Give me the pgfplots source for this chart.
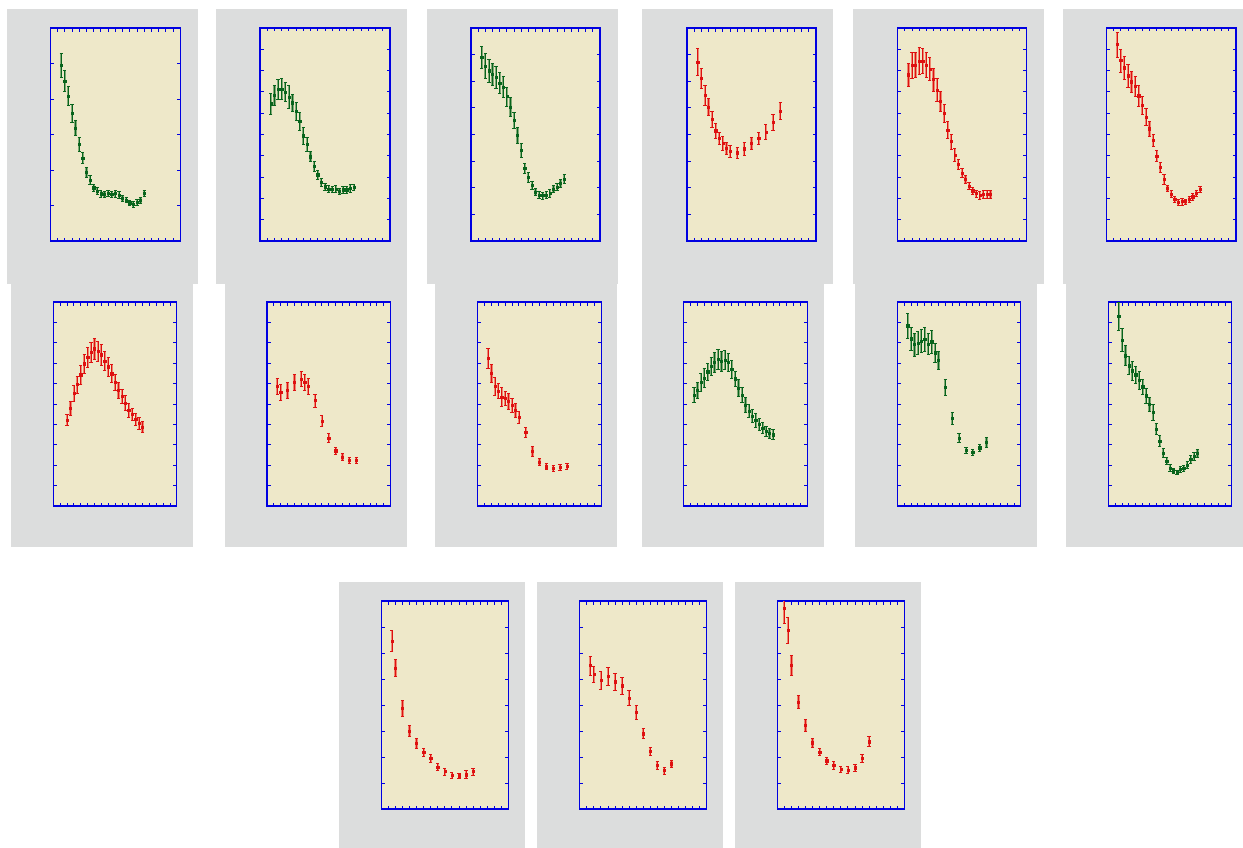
\documentclass[border=0pt]{standalone}
\usepackage{pgfplots}
\usepackage{pgfplotstable}
\pgfplotsset{compat=1.18}
\definecolor{beige}{RGB}{238,232,201}
\definecolor{panelgray}{RGB}{220,221,221}
\definecolor{axblue}{RGB}{0,0,225}
\definecolor{gmark}{RGB}{8,100,28}
\definecolor{ghalo}{RGB}{130,170,118}
\definecolor{rmark}{RGB}{222,16,16}
\definecolor{rhalo}{RGB}{238,135,112}

\pgfplotstableread{
x y e
1.5 4.95 0.33
2.0 4.51 0.30
2.5 4.09 0.28
3.0 3.60 0.25
3.5 3.18 0.21
4.0 2.72 0.20
4.5 2.34 0.15
5.0 1.94 0.15
5.5 1.72 0.12
6.0 1.50 0.10
6.5 1.41 0.09
7.0 1.33 0.11
7.5 1.32 0.08
8.0 1.35 0.09
8.5 1.31 0.09
9.0 1.34 0.10
9.5 1.30 0.09
10.0 1.21 0.08
10.5 1.16 0.08
11.0 1.08 0.08
11.5 1.04 0.08
12.0 1.09 0.08
12.5 1.15 0.08
13.0 1.34 0.09
}\tAa
\pgfplotstableread{
x y e
1.5 6.45 0.50
2.0 6.86 0.47
2.5 7.14 0.47
3.0 7.14 0.49
3.5 7.00 0.46
4.0 6.75 0.54
4.5 6.49 0.42
5.0 6.10 0.42
5.5 5.63 0.43
6.0 4.94 0.42
6.5 4.54 0.31
7.0 3.96 0.24
7.5 3.51 0.23
8.0 3.11 0.22
8.5 2.77 0.19
9.0 2.55 0.17
9.5 2.45 0.17
10.0 2.44 0.15
10.5 2.44 0.17
11.0 2.33 0.16
11.5 2.41 0.17
12.0 2.41 0.16
12.5 2.47 0.17
13.0 2.52 0.13
}\tAb
\pgfplotstableread{
x y e
1.5 6.89 0.41
2.0 6.58 0.46
2.5 6.40 0.43
3.0 6.26 0.42
3.5 6.15 0.40
4.0 5.94 0.41
4.5 5.79 0.40
5.0 5.43 0.36
5.5 5.04 0.35
6.0 4.53 0.30
6.5 3.97 0.29
7.0 3.42 0.26
7.5 2.74 0.19
8.0 2.40 0.18
8.5 2.09 0.16
9.0 1.84 0.14
9.5 1.72 0.13
10.0 1.71 0.13
10.5 1.72 0.13
11.0 1.79 0.14
11.5 1.95 0.13
12.0 2.03 0.13
12.5 2.16 0.14
13.0 2.33 0.16
}\tAc
\pgfplotstableread{
x y e
1.5 6.73 0.52
2.0 6.10 0.38
2.5 5.47 0.38
3.0 5.04 0.31
3.5 4.57 0.31
4.0 4.14 0.28
4.5 3.86 0.23
5.0 3.67 0.25
5.5 3.48 0.21
6.0 3.37 0.23
7.0 3.32 0.21
8.0 3.47 0.24
9.0 3.67 0.23
10.0 3.87 0.23
11.0 4.10 0.29
12.0 4.45 0.31
13.0 4.89 0.31
}\tAd
\pgfplotstableread{
x y e
1.5 7.81 0.54
2.0 8.27 0.61
2.5 8.27 0.57
3.0 8.46 0.64
3.5 8.46 0.59
4.0 8.27 0.57
4.5 8.08 0.54
5.0 7.58 0.55
5.5 7.09 0.53
6.0 6.56 0.47
6.5 6.01 0.42
7.0 5.22 0.39
7.5 4.67 0.35
8.0 4.04 0.29
8.5 3.60 0.24
9.0 3.18 0.21
9.5 2.89 0.18
10.0 2.58 0.17
10.5 2.36 0.18
11.0 2.23 0.17
11.5 2.14 0.17
12.0 2.19 0.17
12.5 2.19 0.17
13.0 2.19 0.17
}\tAe
\pgfplotstableread{
x y e
1.5 9.23 0.59
2.0 8.48 0.54
2.5 8.14 0.53
3.0 7.76 0.54
3.5 7.48 0.51
4.0 7.26 0.45
4.5 6.82 0.49
5.0 6.37 0.44
5.5 5.81 0.40
6.0 5.27 0.34
6.5 4.73 0.30
7.0 3.99 0.25
7.5 3.46 0.24
8.0 2.91 0.23
8.5 2.47 0.16
9.0 2.21 0.15
9.5 1.96 0.14
10.0 1.83 0.14
10.5 1.85 0.16
11.0 1.85 0.12
11.5 1.96 0.14
12.0 2.08 0.16
12.5 2.24 0.16
13.0 2.43 0.16
}\tAf
\pgfplotstableread{
x y e
2.0 4.22 0.27
2.5 4.79 0.33
3.0 5.52 0.39
3.5 5.96 0.42
4.0 6.44 0.46
4.5 6.98 0.46
5.0 7.29 0.50
5.5 7.53 0.50
6.0 7.71 0.52
6.5 7.58 0.51
7.0 7.42 0.50
7.5 7.11 0.48
8.0 6.83 0.45
8.5 6.49 0.44
9.0 6.06 0.41
9.5 5.67 0.38
10.0 5.38 0.34
10.5 5.05 0.38
11.0 4.69 0.33
11.5 4.51 0.30
12.0 4.26 0.30
12.5 4.05 0.29
13.0 3.87 0.26
}\tBa
\pgfplotstableread{
x y e
1.5 5.87 0.40
2.0 5.57 0.38
3.0 5.67 0.37
4.0 6.06 0.40
5.0 6.23 0.38
5.5 6.06 0.40
6.0 5.87 0.41
7.0 5.18 0.32
8.0 4.17 0.28
9.0 3.33 0.23
10.0 2.71 0.19
11.0 2.40 0.17
12.0 2.25 0.16
13.0 2.25 0.16
}\tBb
\pgfplotstableread{
x y e
1.5 7.24 0.49
2.0 6.50 0.43
2.5 5.88 0.45
3.0 5.64 0.37
3.5 5.34 0.47
4.0 5.28 0.33
4.5 5.13 0.38
5.0 4.93 0.35
5.5 4.69 0.34
6.0 4.35 0.29
7.0 3.63 0.24
8.0 2.70 0.25
9.0 2.16 0.16
10.0 1.93 0.15
11.0 1.86 0.14
12.0 1.91 0.15
13.0 1.96 0.14
}\tBc
\pgfplotstableread{
x y e
1.5 5.43 0.37
2.0 5.68 0.38
2.5 6.06 0.44
3.0 6.27 0.47
3.5 6.58 0.41
4.0 6.84 0.43
4.5 7.04 0.48
5.0 7.20 0.48
5.5 7.09 0.47
6.0 7.15 0.47
6.5 7.05 0.45
7.0 6.71 0.44
7.5 6.24 0.38
8.0 5.78 0.41
8.5 5.43 0.37
9.0 4.96 0.37
9.5 4.66 0.32
10.0 4.42 0.31
10.5 4.19 0.33
11.0 4.01 0.29
11.5 3.83 0.28
12.0 3.65 0.25
12.5 3.55 0.25
13.0 3.50 0.25
}\tBd
\pgfplotstableread{
x y e
1.5 8.84 0.63
2.0 8.20 0.56
2.5 7.92 0.56
3.0 8.00 0.57
3.5 8.09 0.56
4.0 8.17 0.57
4.5 7.95 0.51
5.0 8.05 0.55
5.5 7.51 0.47
6.0 7.14 0.46
7.0 5.83 0.40
8.0 4.30 0.31
9.0 3.34 0.24
10.0 2.73 0.17
11.0 2.65 0.15
12.0 2.86 0.18
13.0 3.13 0.24
}\tBe
\pgfplotstableread{
x y e
1.5 9.30 0.69
2.0 8.14 0.56
2.5 7.37 0.49
3.0 6.88 0.44
3.5 6.63 0.47
4.0 6.44 0.41
4.5 6.16 0.42
5.0 5.85 0.38
5.5 5.41 0.37
6.0 4.98 0.35
6.5 4.59 0.39
7.0 3.77 0.27
7.5 3.19 0.27
8.0 2.60 0.21
8.5 2.21 0.16
9.0 1.86 0.16
9.5 1.73 0.14
10.0 1.65 0.11
10.5 1.81 0.15
11.0 1.86 0.14
11.5 2.01 0.16
12.0 2.29 0.18
12.5 2.43 0.19
13.0 2.60 0.20
}\tBf
\pgfplotstableread{
x y e
1.5 6.46 0.40
2.0 5.43 0.34
3.0 3.88 0.32
4.0 3.00 0.21
5.0 2.54 0.19
6.0 2.18 0.15
7.0 1.95 0.14
8.0 1.62 0.15
9.0 1.44 0.13
10.0 1.31 0.12
11.0 1.28 0.11
12.0 1.32 0.15
13.0 1.44 0.13
}\tCa
\pgfplotstableread{
x y e
1.5 5.52 0.37
2.0 5.17 0.31
3.0 4.96 0.34
4.0 5.10 0.35
5.0 4.90 0.33
6.0 4.74 0.34
7.0 4.27 0.28
8.0 3.71 0.27
9.0 2.90 0.19
10.0 2.23 0.15
11.0 1.68 0.14
12.0 1.48 0.14
13.0 1.74 0.14
}\tCb
\pgfplotstableread{
x y e
1.0 7.72 0.58
1.5 6.88 0.50
2.0 5.53 0.37
3.0 4.12 0.26
4.0 3.22 0.22
5.0 2.55 0.18
6.0 2.19 0.14
7.0 1.86 0.14
8.0 1.68 0.14
9.0 1.53 0.12
10.0 1.50 0.14
11.0 1.59 0.14
12.0 1.94 0.15
13.0 2.59 0.19
}\tCc

\pgfplotsset{pnl/.style={scale only axis, anchor=south west,
  xmin=0, xmax=18, ymin=0, xtick distance=1, ytick distance=1,
  xticklabels={}, yticklabels={}, tick align=inside,
  axis background/.style={fill=beige},
  axis line style={draw=axblue, line width=1.2pt},
  tick style={draw=axblue, line width=0.8pt},
  major tick length=3.5pt, clip=true}}

\newcommand\panel[8]{%
\begin{axis}[pnl, at={(#1pt,-#2pt)}, width=#3pt, height=#4pt, ymax=#5]
\addplot[only marks, mark=*, mark size=0.1pt, mark options={draw=none, fill=none},
  forget plot, error bars/.cd, y dir=both, y explicit,
  error bar style={draw=#8, line width=2.2pt}, error mark=none]
  table[x=x, y=y, y error=e]{#6};
\addplot[only marks, mark=square*, mark size=1.1pt, color=#7,
  error bars/.cd, y dir=both, y explicit,
  error bar style={draw=#7, line width=0.7pt},
  error mark options={rotate=90, mark size=1.6pt, line width=0.6pt, draw=#7}]
  table[x=x, y=y, y error=e]{#6};
\end{axis}}

\begin{document}
\begin{tikzpicture}
\path[fill=white, use as bounding box] (0,0) rectangle (1243pt,-848pt);
\foreach \a/\b in {7/198, 216/407, 427/618, 642/833, 853/1044, 1063/1243}
  \fill[panelgray] (\a pt,-9pt) rectangle (\b pt,-284pt);
\foreach \a/\b in {11/193, 225/407, 435/617, 642/824, 855/1037, 1066/1243}
  \fill[panelgray] (\a pt,-284pt) rectangle (\b pt,-547pt);
\foreach \a/\b in {339/525, 537/723, 735/921}
  \fill[panelgray] (\a pt,-582pt) rectangle (\b pt,-848pt);

\panel{50.3}{241}{130}{213}{6}{\tAa}{gmark}{ghalo}
\panel{260}{241}{130}{213}{10}{\tAb}{gmark}{ghalo}
\panel{471}{241}{129}{213}{8}{\tAc}{gmark}{ghalo}
\panel{687}{241}{129}{213}{8}{\tAd}{rmark}{rhalo}
\panel{897.7}{241}{128.5}{213}{10}{\tAe}{rmark}{rhalo}
\panel{1106.3}{241}{129.7}{213}{10}{\tAf}{rmark}{rhalo}

\panel{53.3}{506}{123.5}{204}{10}{\tBa}{rmark}{rhalo}
\panel{267}{506}{123.5}{204}{10}{\tBb}{rmark}{rhalo}
\panel{477.7}{506}{123.5}{204}{10}{\tBc}{rmark}{rhalo}
\panel{683.7}{506}{123.5}{204}{10}{\tBd}{gmark}{ghalo}
\panel{897.3}{506}{123.5}{204}{10}{\tBe}{gmark}{ghalo}
\panel{1108.3}{506}{123.5}{204}{10}{\tBf}{gmark}{ghalo}

\panel{381.3}{809}{127}{208}{8}{\tCa}{rmark}{rhalo}
\panel{579.7}{809}{127}{208}{8}{\tCb}{rmark}{rhalo}
\panel{777.3}{809}{127}{208}{8}{\tCc}{rmark}{rhalo}
\end{tikzpicture}
\end{document}
